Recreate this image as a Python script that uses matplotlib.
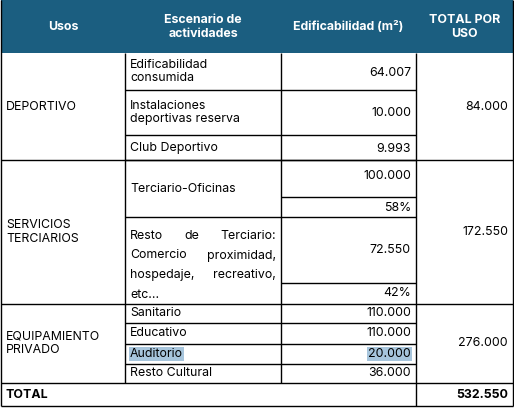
import matplotlib
matplotlib.use("Agg")
import matplotlib.pyplot as plt

# column edges (px) and fonts
cols = [1, 125, 281, 416, 513]
header_color = "#1b5e80"
plt.rcParams['font.family'] = ['Inter', 'DejaVu Sans']
fs = 8.9

headers = ["Usos", "Escenario de\nactividades", "Edificabilidad (m²)", "TOTAL POR\nUSO"]

usos = ["DEPORTIVO", "SERVICIOS\nTERCIARIOS", "EQUIPAMIENTO\nPRIVADO"]
uso_totals = ["84.000", "172.550", "276.000"]
uso_rows = [(53, 160), (160, 304), (304, 383)]

deportivo_act = ["Edificabilidad\nconsumida", "Instalaciones\ndeportivas reserva", "Club Deportivo"]
deportivo_val = ["64.007", "10.000", "9.993"]
deportivo_y = [53, 90, 135, 160]

terciario_val = ["100.000", "72.550"]
terciario_pct = ["58%", "42%"]
resto_lines = ["Resto de Terciario:", "Comercio proximidad,", "hospedaje, recreativo,", "etc..."]

equip_act = ["Sanitario", "Educativo", "Auditorio", "Resto Cultural"]
equip_val = ["110.000", "110.000", "20.000", "36.000"]
equip_y = [304, 323, 344, 364, 383]

total_label = "TOTAL"
total_val = "532.550"

fig = plt.figure(figsize=(5.14, 4.08), dpi=100)
ax = fig.add_axes([0, 0, 1, 1])
ax.set_xlim(0, 514)
ax.set_ylim(408, 0)
ax.axis('off')
lw = 1.0
k = 'black'

def hline(y, x0, x1):
    ax.plot([x0, x1], [y, y], color=k, lw=lw, solid_capstyle='butt')

def vline(x, y0, y1):
    ax.plot([x, x], [y0, y1], color=k, lw=lw, solid_capstyle='butt')

def txt(x, y, s, ha='left', bold=False, **kw):
    ax.text(x, y, s, ha=ha, va='center', fontsize=fs, fontweight='bold' if bold else 'normal',
            linespacing=1.2, **kw)

# header
ax.add_patch(plt.Rectangle((cols[0], 0), cols[-1] - cols[0], 53, color=header_color, lw=0))
for i, h in enumerate(headers):
    txt((cols[i] + cols[i + 1]) / 2, 27, h, ha='center', bold=True, color='white')

# uso column + totals
for (y0, y1), u, t in zip(uso_rows, usos, uso_totals):
    txt(cols[0] + 5, (y0 + y1) / 2, u)
    txt(cols[4] - 5, (y0 + y1) / 2, t, ha='right')
    hline(y1, cols[0], cols[4])

# deportivo
for i, (a, v) in enumerate(zip(deportivo_act, deportivo_val)):
    y0, y1 = deportivo_y[i], deportivo_y[i + 1]
    txt(cols[1] + 5, (y0 + y1) / 2, a)
    txt(cols[3] - 5, (y0 + y1) / 2 + 1, v, ha='right')
    hline(y1, cols[1], cols[3])

# terciario
txt(cols[1] + 5, 189, "Terciario-Oficinas")
txt(cols[3] - 5, 176, terciario_val[0], ha='right')
txt(cols[3] - 5, 208, terciario_pct[0], ha='right')
txt(cols[3] - 5, 250, terciario_val[1], ha='right')
txt(cols[3] - 5, 293, terciario_pct[1], ha='right')
hline(197, cols[2], cols[3])
hline(217, cols[1], cols[3])
hline(283, cols[2], cols[3])

# justified text
fig.canvas.draw()
r = fig.canvas.get_renderer()
x_left, x_right = cols[1] + 5, cols[2] - 5
for j, line in enumerate(resto_lines):
    y = 236 + j * 19.5
    words = line.split()
    if len(words) == 1 or j == len(resto_lines) - 1:
        txt(x_left, y, line)
        continue
    ws = []
    for w in words:
        t = ax.text(0, 0, w, fontsize=fs)
        bb = t.get_window_extent(r)
        ws.append((bb.width) * 514 / fig.bbox.width)
        t.remove()
    gap = (x_right - x_left - sum(ws)) / (len(words) - 1)
    x = x_left
    for w, wd in zip(words, ws):
        txt(x, y, w)
        x += wd + gap

# equipamiento
for i, (a, v) in enumerate(zip(equip_act, equip_val)):
    y0, y1 = equip_y[i], equip_y[i + 1]
    yc = (y0 + y1) / 2
    if a == "Auditorio":
        box = dict(boxstyle='square,pad=0.12', fc='#a7c5dc', ec='none')
        ax.text(cols[1] + 5, yc, a, ha='left', va='center', fontsize=fs, bbox=box)
        ax.text(cols[3] - 5, yc, v, ha='right', va='center', fontsize=fs, bbox=box)
    else:
        txt(cols[1] + 5, yc, a)
        txt(cols[3] - 5, yc, v, ha='right')
    if i < len(equip_act) - 1:
        hline(y1, cols[1], cols[3])

# total row
txt(cols[0] + 4, 395, total_label, bold=True)
txt(cols[4] - 5, 395, total_val, ha='right', bold=True)
hline(406, cols[0], cols[4])

# verticals
vline(cols[0], 0, 406)
vline(cols[4], 0, 406)
vline(cols[1], 53, 383)
vline(cols[2], 53, 383)
vline(cols[3], 53, 406)

fig.savefig("out.png", dpi=100)
